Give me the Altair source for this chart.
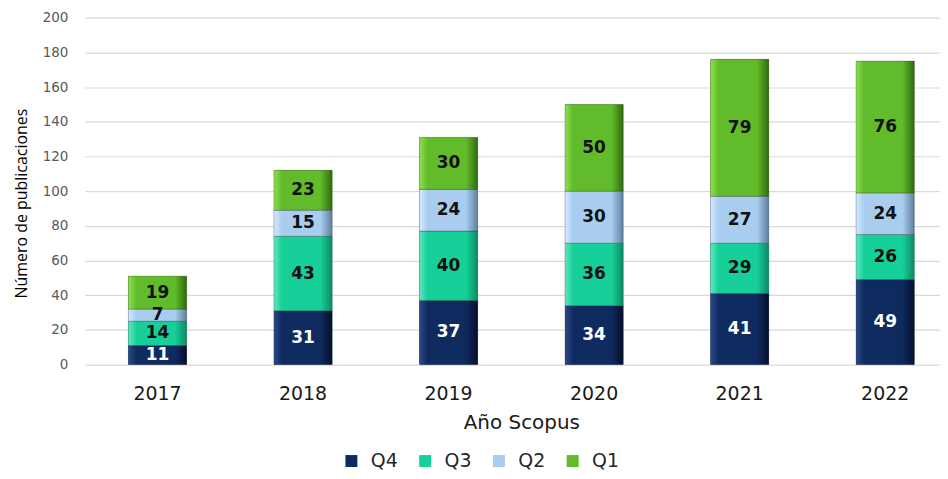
import altair as alt
import pandas as pd

years = ["2017", "2018", "2019", "2020", "2021", "2022"]
series = ["Q4", "Q3", "Q2", "Q1"]
q4 = [11, 31, 37, 34, 41, 49]
q3 = [14, 43, 40, 36, 29, 26]
q2 = [7, 15, 24, 30, 27, 24]
q1 = [19, 23, 30, 50, 79, 76]
colors = ["#0f2a5f", "#17cf98", "#a8cdef", "#62bb2a"]
edge_light = ["#2a4a8a", "#5fe8c0", "#d6eaff", "#8fe04e"]
edge_dark = ["#050f2a", "#0c8a64", "#5f7e9e", "#2f6a10"]

rows = []
for s_i, (name, vals) in enumerate(zip(series, [q4, q3, q2, q1])):
    for y, v in zip(years, vals):
        rows.append({"year": y, "series": name, "value": v, "order": s_i})
df = pd.DataFrame(rows)

base = alt.Chart(df).transform_stack(
    stack="value", groupby=["year"], as_=["y0", "y1"],
    sort=[alt.SortField("order", order="ascending")]
).transform_calculate(mid="(datum.y0 + datum.y1) / 2")

x_axis = alt.Axis(labelAngle=0, labelFontSize=19, labelColor="#1a1a1a",
                  labelFont="DejaVu Sans", titleFont="DejaVu Sans",
                  titleFontSize=20, titleFontWeight="normal",
                  titleColor="#1a1a1a", domain=False, ticks=False,
                  labelPadding=20, titlePadding=9)
x_scale = alt.Scale(paddingInner=0.6, paddingOuter=0.3, range=[0, 876])
y_axis = alt.Axis(values=list(range(0, 201, 20)), domain=False, ticks=False,
                  labelFontSize=13.5, labelColor="#595959", labelFont="DejaVu Sans",
                  labelPadding=17, gridColor="#d9d9d9", gridWidth=1.2,
                  titleFont="Open Sans", titleFontSize=16,
                  titleFontWeight=500, titleColor="#000000",
                  titlePadding=13, titleY=186)
y_scale = alt.Scale(domain=[0, 200])
x_title = "Año Scopus"
y_title = "Número de publicaciones"


def xe():
    return alt.X("year:N", title=x_title, scale=x_scale, axis=x_axis)


def ye(field):
    return alt.Y(field, title=y_title, scale=y_scale, axis=y_axis)


bars = base.mark_bar().encode(
    x=xe(),
    y=ye("y0:Q"),
    y2="y1:Q",
    color=alt.Color("series:N", scale=alt.Scale(domain=series, range=colors),
                    legend=alt.Legend(orient="none", direction="horizontal",
                                      legendX=258, legendY=435, title=None,
                                      symbolType="square", symbolSize=144,
                                      symbolStrokeWidth=0,
                                      labelFontSize=19, labelFont="DejaVu Sans",
                                      labelColor="#262626", columnPadding=17,
                                      labelOffset=10)),
)

layers = [bars]
for name, c, lt, dk in zip(series, colors, edge_light, edge_dark):
    grad = alt.Gradient(
        gradient="linear", x1=0, x2=1, y1=0, y2=0,
        stops=[alt.GradientStop(color=lt, offset=0),
               alt.GradientStop(color=c, offset=0.14),
               alt.GradientStop(color=c, offset=0.8),
               alt.GradientStop(color=dk, offset=1)])
    layers.append(
        base.transform_filter(alt.datum.series == name)
        .mark_bar(color=grad, stroke="#2a2a2a", strokeWidth=0.3)
        .encode(x=xe(), y=ye("y0:Q"), y2="y1:Q")
    )

labels = base.mark_text(font="DejaVu Sans", fontSize=17, fontWeight="bold").encode(
    x=xe(),
    y=ye("mid:Q"),
    text=alt.Text("value:Q"),
    color=alt.condition(alt.datum.series == "Q4", alt.value("#ffffff"), alt.value("#111111")),
)
layers.append(labels)

chart = alt.layer(*layers).properties(
    width=858, height=348,
    autosize=alt.AutoSizeParams(type="none"),
    padding={"left": 77, "top": 9, "right": 0, "bottom": 106},
).configure_view(stroke=None)

chart.save("out.html", embed_options={"renderer": "svg", "actions": False})
